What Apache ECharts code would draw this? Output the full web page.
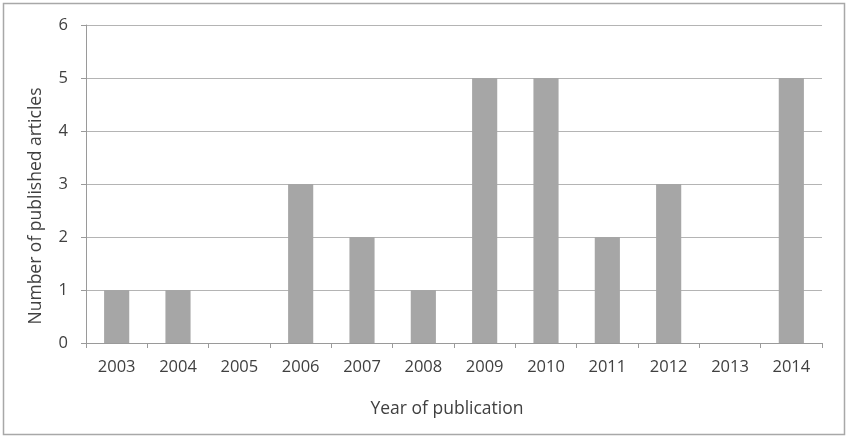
<!DOCTYPE html>
<html><head><meta charset="utf-8">
<script src="https://cdn.jsdelivr.net/npm/echarts@6/dist/echarts.min.js"></script>
<style>html,body{margin:0;padding:0;background:#fff}#c{width:848px;height:439px}</style>
</head><body><div id="c"></div>
<script>
var years = ['2003','2004','2005','2006','2007','2008','2009','2010','2011','2012','2013','2014'];
var articles = [1,1,0,3,2,1,5,5,2,3,0,5];
var yTicks = {min:0, max:6, interval:1};
var xName = 'Year of publication';
var yName = 'Number of published articles';

var chart = echarts.init(document.getElementById('c'), null, {renderer:'canvas'});
var font = '"Open Sans", Lato, sans-serif';
chart.setOption({
  animation:false,
  backgroundColor:'#fff',
  graphic:[{type:'rect', shape:{x:3.5,y:3.5,width:841,height:431}, style:{fill:'none', stroke:'#a8a8a8', lineWidth:1.5}, silent:true}],
  grid:{left:86, right:26, top:25, bottom:96},
  xAxis:{
    type:'category', data:years,
    name:xName, nameLocation:'middle', nameGap:57,
    nameTextStyle:{fontFamily:font, fontSize:17.5, color:'#404040', padding:[0,14,0,0]},
    axisLine:{lineStyle:{color:'#9a9a9a', width:1}},
    axisTick:{show:true, alignWithLabel:false, length:5, lineStyle:{color:'#9a9a9a'}},
    axisLabel:{fontFamily:font, fontSize:16.5, color:'#404040', margin:16}
  },
  yAxis:{
    type:'value', min:yTicks.min, max:yTicks.max, interval:yTicks.interval,
    name:yName, nameLocation:'middle', nameGap:41, nameRotate:90,
    nameTextStyle:{fontFamily:font, fontSize:17.5, color:'#404040', padding:[0,44,0,0]},
    axisLine:{show:true, lineStyle:{color:'#9a9a9a', width:1}},
    axisTick:{show:true, length:5, lineStyle:{color:'#9a9a9a'}},
    axisLabel:{fontFamily:font, fontSize:16.5, color:'#404040', margin:18},
    splitLine:{lineStyle:{color:'#b4b4b4', width:1}}
  },
  series:[{type:'bar', data:articles, barWidth:'41%', itemStyle:{color:'#a6a6a6'}}]
});
</script></body></html>
